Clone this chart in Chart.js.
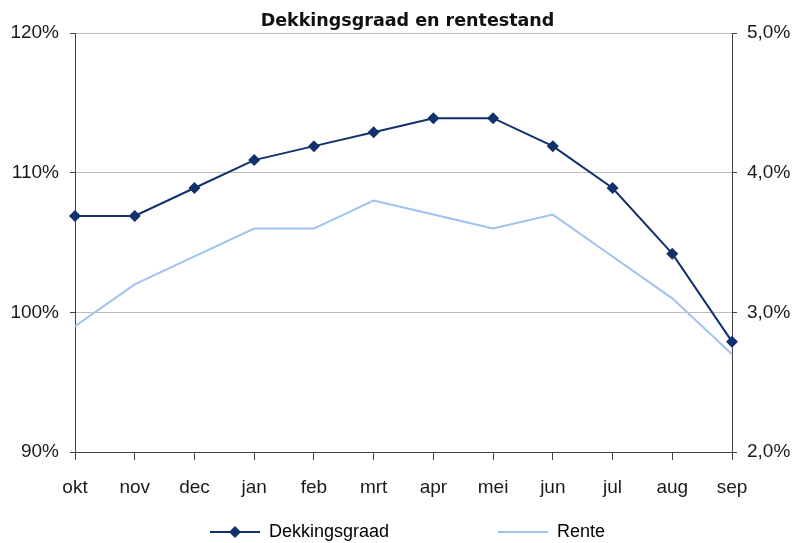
<!DOCTYPE html>
<html>
<head>
<meta charset="utf-8">
<script src="https://cdn.jsdelivr.net/npm/chart.js@4"></script>
<style>
  body { margin: 0; background: #fff; }
  #chart { display: block; }
</style>
</head>
<body>
<canvas id="chart" width="795" height="543"></canvas>
<script>
// data
var months = ["okt", "nov", "dec", "jan", "feb", "mrt", "apr", "mei", "jun", "jul", "aug", "sep"];
var dekkingsgraad = [106.9, 106.9, 108.9, 110.9, 111.9, 112.9, 113.9, 113.9, 111.9, 108.9, 104.2, 97.9];
var rente = [2.9, 3.2, 3.4, 3.6, 3.6, 3.8, 3.7, 3.6, 3.7, 3.4, 3.1, 2.7];

var navy = "#12306b";
var lightBlue = "#9fc2ee";

Chart.defaults.font.family = "'Liberation Sans', Arial, sans-serif";
Chart.defaults.color = "#1a1a1a";

// legend symbols: line with diamond, plain line
function legendSymbol(withDiamond, color) {
  var c = document.createElement("canvas");
  c.width = 50;
  c.height = 14;
  var g = c.getContext("2d");
  g.strokeStyle = color;
  g.lineWidth = 2;
  g.beginPath();
  g.moveTo(0, 7);
  g.lineTo(50, 7);
  g.stroke();
  if (withDiamond) {
    g.fillStyle = color;
    g.beginPath();
    g.moveTo(25, 1);
    g.lineTo(31, 7);
    g.lineTo(25, 13);
    g.lineTo(19, 7);
    g.closePath();
    g.fill();
  }
  return c;
}

var ctx = document.getElementById("chart");

var chart = new Chart(ctx, {
  type: "line",
  data: {
    labels: months,
    datasets: [{
      label: "Dekkingsgraad",
      data: dekkingsgraad,
      yAxisID: "y",
      borderColor: navy,
      backgroundColor: navy,
      borderWidth: 2,
      pointStyle: "rectRot",
      pointRadius: 6,
      pointBorderWidth: 0,
      tension: 0
    }, {
      label: "Rente",
      data: rente,
      yAxisID: "y2",
      borderColor: lightBlue,
      backgroundColor: lightBlue,
      borderWidth: 2,
      pointRadius: 0,
      tension: 0
    }]
  },
  options: {
    responsive: false,
    animation: false,
    layout: {
      // negative right padding nudges the centred legend to the right
      padding: { left: 0, right: -20, top: 0, bottom: -8 }
    },
    scales: {
      x: {
        offset: false,
        grid: {
          drawOnChartArea: false,
          tickLength: 8,
          tickColor: "#444"
        },
        border: { color: "#444", width: 1 },
        ticks: {
          font: { size: 19 },
          padding: 16,
          maxRotation: 0,
          autoSkip: false
        },
        afterFit: function(scale) { scale.height = 67; }
      },
      y: {
        position: "left",
        min: 90,
        max: 120,
        grid: {
          color: "#bdbdbd",
          tickLength: 5,
          tickColor: "#444"
        },
        border: { color: "#444", width: 1 },
        ticks: {
          stepSize: 10,
          font: { size: 19 },
          padding: 11,
          callback: function(v) { return v + "%"; }
        },
        afterFit: function(scale) { scale.width = 75; }
      },
      y2: {
        position: "right",
        min: 2,
        max: 5,
        grid: {
          drawOnChartArea: false,
          tickLength: 5,
          tickColor: "#444"
        },
        border: { color: "#444", width: 1 },
        ticks: {
          stepSize: 1,
          font: { size: 19 },
          padding: 10,
          callback: function(v) { return v.toFixed(1).replace(".", ",") + "%"; }
        },
        afterFit: function(scale) { scale.width = 83; }
      }
    },
    plugins: {
      title: {
        display: true,
        text: "Dekkingsgraad en rentestand",
        color: "#111",
        font: { family: "'DejaVu Sans', Verdana, sans-serif", size: 17.5, weight: "bold" },
        padding: { top: 11, bottom: 1 }
      },
      legend: {
        position: "bottom",
        labels: {
          font: { size: 18 },
          color: "#1a1a1a",
          padding: 4,
          usePointStyle: true,
          pointStyleWidth: 50,
          generateLabels: function(chart) {
            // trailing spaces give the wide gap between the two entries
            return [{
              text: "Dekkingsgraad" + "                     ",
              pointStyle: legendSymbol(true, navy),
              fillStyle: navy,
              strokeStyle: navy,
              lineWidth: 0,
              hidden: false,
              datasetIndex: 0
            }, {
              text: "Rente",
              pointStyle: legendSymbol(false, lightBlue),
              fillStyle: lightBlue,
              strokeStyle: lightBlue,
              lineWidth: 0,
              hidden: false,
              datasetIndex: 1
            }];
          }
        }
      },
      tooltip: { enabled: false }
    }
  }
});
</script>
</body>
</html>
